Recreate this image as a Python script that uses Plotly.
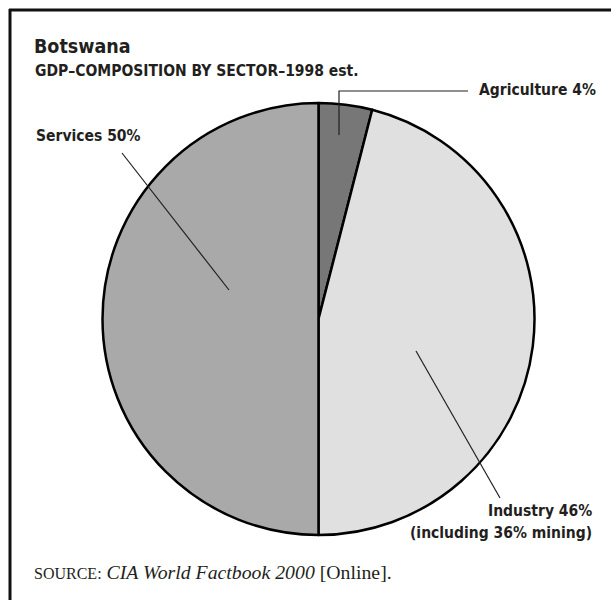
import plotly.graph_objects as go

W, H = 611, 600

sectors = ['Agriculture', 'Industry', 'Services']
shares = [4, 46, 50]
industry_note = '(including 36% mining)'

title = 'Botswana'
subtitle = 'GDP\u2013COMPOSITION BY SECTOR\u20131998 est.'

slice_colors = ['#777777', '#e0e0e0', '#a9a9a9']
ink = '#231f20'
sans = 'Liberation Sans Narrow, DejaVu Sans Condensed, Arial Narrow, sans-serif'
serif = 'Liberation Serif, Times New Roman, serif'


def px(x):
    return x / W


def py(y):
    return 1 - y / H


fig = go.Figure(go.Pie(
    labels=sectors, values=shares, sort=False, direction='clockwise', rotation=0,
    marker=dict(colors=slice_colors, line=dict(color='#000000', width=2.5)),
    textinfo='none', hoverinfo='label+percent', showlegend=False,
    domain=dict(x=[px(102), px(535)], y=[py(535), py(103)]),
))

# frame (top and left only) and leader lines
lead = dict(color=ink, width=1.2)
shapes = [
    dict(type='line', xref='paper', yref='paper', x0=px(9), x1=1, y0=py(10), y1=py(10),
         line=dict(color='#111111', width=3)),
    dict(type='line', xref='paper', yref='paper', x0=px(10), x1=px(10), y0=py(9), y1=0,
         line=dict(color='#111111', width=3)),
    dict(type='path', xref='paper', yref='paper',
         path=f'M {px(339)},{py(135)} L {px(339)},{py(91)} L {px(468)},{py(91)}', line=lead),
    dict(type='line', xref='paper', yref='paper', x0=px(122), y0=py(153), x1=px(229), y1=py(290), line=lead),
    dict(type='line', xref='paper', yref='paper', x0=px(416), y0=py(351), x1=px(500), y1=py(498), line=lead),
]


def label(text, x, y, size, xanchor='left', family=sans):
    return dict(text=text, x=px(x), y=py(y), xref='paper', yref='paper', showarrow=False,
                xanchor=xanchor, yanchor='middle', align=xanchor,
                font=dict(family=family, size=size, color=ink))


annotations = [
    label(f'<b>{title}</b>', 32, 46, 19.5),
    label(f'<b>{subtitle}</b>', 33, 71, 15.5),
    label(f'<b>{sectors[0]} {shares[0]}%</b>', 477, 90, 15.5),
    label(f'<b>{sectors[2]} {shares[2]}%</b>', 34, 136, 15.5),
    label(f'<b>{sectors[1]} {shares[1]}%</b>', 594, 511, 15.5, xanchor='right'),
    label(f'<b>{industry_note}</b>', 594, 533, 15.5, xanchor='right'),
    label('<span style="font-size:16px">SOURCE:</span> <i>CIA World Factbook 2000</i> [Online].',
          32, 572, 19.8, family=serif),
]

fig.update_layout(
    width=W, height=H, margin=dict(l=0, r=0, t=0, b=0),
    paper_bgcolor='white', plot_bgcolor='white',
    shapes=shapes, annotations=annotations,
)

# the page body has a default 8px margin; drop it so the figure sits at the corner
fig.write_html('out.html', config={'displayModeBar': False},
               post_script="document.body.style.margin='0';")
